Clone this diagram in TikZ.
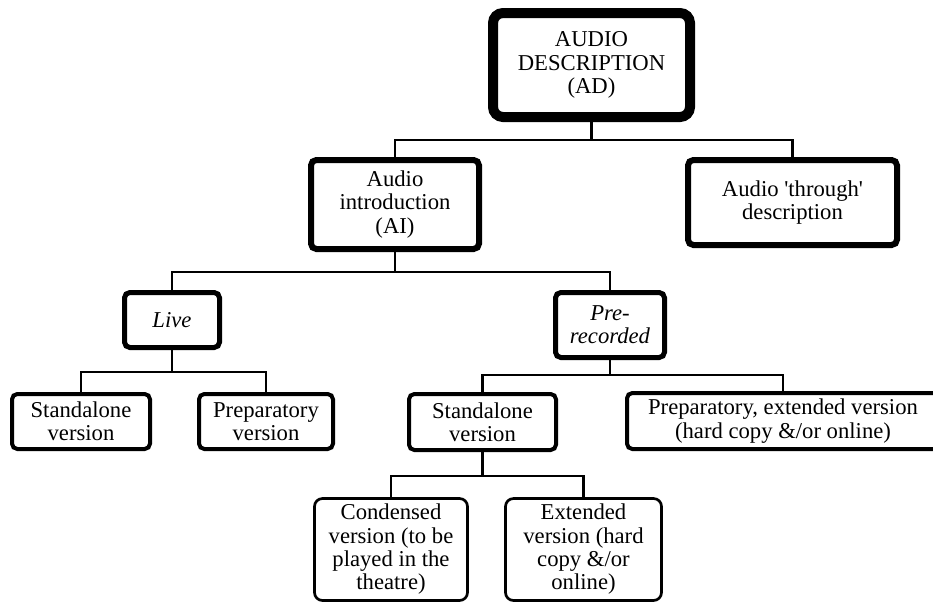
\documentclass[tikz,border=0pt]{standalone}
\usepackage{fontspec}
\setmainfont{Liberation Serif}
\tikzset{
	box/.style={draw, rounded corners=4pt, align=center, inner sep=0pt},
	link/.style={line width=2.2pt},
}

\begin{document}
\begin{tikzpicture}[x=0.75pt,y=-0.75pt,font=\fontsize{17}{17.5}\selectfont]
	\clip (0,0) rectangle (933,601);
	\node[box, line width=7.5pt, rounded corners=7.5pt, minimum width=147.75pt, minimum height=78pt] (ad) at (591.5,65) {AUDIO\\DESCRIPTION\\(AD)};
	\node[box, line width=4.5pt, minimum width=126pt, minimum height=66.75pt] (ai) at (395,204.5) {Audio\\introduction\\(AI)};
	\node[box, line width=4.5pt, minimum width=156.75pt, minimum height=63.75pt] (thr) at (792.5,202.5) {Audio \textquotesingle through\textquotesingle\\description};
	\node[box, line width=3.75pt, minimum width=71.25pt, minimum height=41.25pt] (live) at (172,320) {\textit{Live}};
	\node[box, line width=3.75pt, minimum width=81.75pt, minimum height=48.75pt] (pre) at (610,325) {\textit{Pre-}\\\textit{recorded}};
	\node[box, line width=3pt, minimum width=103.5pt, minimum height=41.25pt] (stdA) at (81,421.5) {Standalone\\version};
	\node[box, line width=3pt, minimum width=100.5pt, minimum height=41.25pt] (prepA) at (266,421.5) {Preparatory\\version};
	\node[box, line width=3pt, minimum width=110.25pt, minimum height=42pt] (stdB) at (482.5,422) {Standalone\\version};
	\node[box, line width=3pt, minimum width=234pt, minimum height=42pt] (prepB) at (783,421) {Preparatory, extended version\\(hard copy \&/or online)};
	\node[box, line width=2pt, rounded corners=6pt, minimum width=114.75pt, minimum height=76.5pt] (cond) at (391,549.5) {Condensed\\version (to be\\played in the\\theatre)};
	\node[box, line width=2pt, rounded corners=6pt, minimum width=117pt, minimum height=76.5pt] (ext) at (583.5,549.5) {Extended\\version (hard\\copy \&/or\\online)};

	\draw[link] (ad.south) -- ++(0,18) -| (ai.north);
	\draw[link] (ad.south) -- ++(0,18) -| (thr.north);
	\draw[link] (ai.south) -- ++(0,20) -| (live.north);
	\draw[link] (ai.south) -- ++(0,20) -| (pre.north);
	\draw[link] (live.south) -- ++(0,22) -| (stdA.north);
	\draw[link] (live.south) -- ++(0,22) -| (prepA.north);
	\draw[link] (pre.south) -- ++(0,15) -| (stdB.north);
	\draw[link] (pre.south) -- ++(0,15) -| (prepB.north);
	\draw[link] (stdB.south) -- ++(0,24) -| (cond.north);
	\draw[link] (stdB.south) -- ++(0,24) -| (ext.north);
\end{tikzpicture}
\end{document}
